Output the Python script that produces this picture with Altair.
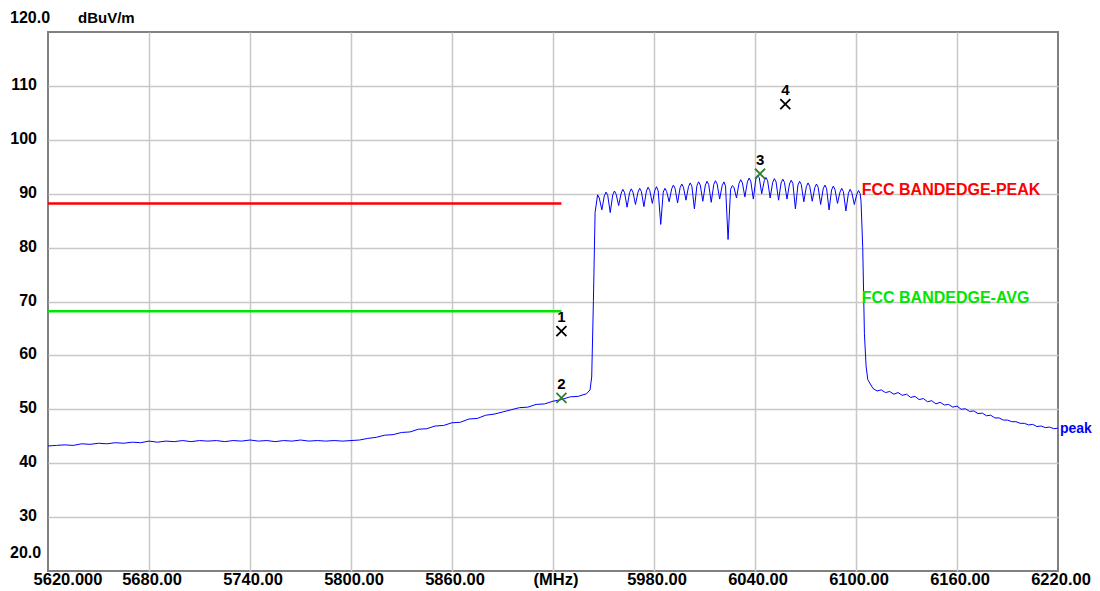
import altair as alt
import pandas as pd

# ---------------- data ----------------
freq_left = [5620, 5625, 5630, 5635, 5640, 5645, 5650, 5655, 5660, 5665, 5670, 5675,
             5680, 5685, 5690, 5695, 5700, 5705, 5710, 5715, 5720, 5725, 5730, 5735,
             5740, 5745, 5750, 5755, 5760, 5765, 5770, 5775, 5780, 5785, 5790, 5795,
             5800, 5805, 5810, 5815, 5820, 5825, 5830, 5835, 5840, 5845, 5850, 5855,
             5860, 5865, 5870, 5875, 5880, 5885, 5890, 5895, 5900, 5905, 5910, 5915,
             5920, 5925, 5930, 5935, 5940, 5942, 5943, 5944, 5945]
level_left = [43.2, 43.3, 43.4, 43.3, 43.6, 43.5, 43.7, 43.6, 43.8, 43.7, 43.9, 43.8,
              44.1, 43.9, 44.1, 44.0, 44.2, 44.0, 44.2, 44.1, 44.2, 44.0, 44.2, 44.1,
              44.3, 44.1, 44.2, 44.0, 44.2, 44.1, 44.3, 44.1, 44.2, 44.1, 44.2, 44.1,
              44.2, 44.3, 44.6, 44.8, 45.2, 45.3, 45.7, 45.8, 46.3, 46.4, 46.9, 47.0,
              47.5, 47.6, 48.2, 48.3, 48.9, 49.1, 49.5, 49.9, 50.3, 50.4, 50.9, 51.0,
              51.5, 51.8, 52.3, 52.4, 52.9, 53.6, 56.0, 70.0, 86.5]

freq_band = [5946.5, 5947.5, 5949, 5950.5, 5951.5, 5952.5, 5954, 5955.5, 5956.5, 5957.5,
             5959, 5960.5, 5961.5, 5962.5, 5964, 5965.5, 5966.5, 5967.5, 5969, 5970.5,
             5971.5, 5972.5, 5974, 5975.5, 5976.5, 5977.5, 5979, 5980.5, 5981.5, 5982.5,
             5984, 5985.5, 5986.5, 5987.5, 5989, 5990.5, 5991.5, 5992.5, 5994, 5995.5,
             5996.5, 5997.5, 5999, 6000.5, 6001.5, 6002.5, 6004, 6005.5, 6006.5, 6007.5,
             6009, 6010.5, 6011.5, 6012.5, 6014, 6015.5, 6016.5, 6017.5, 6019, 6020.5,
             6021.5, 6022.5, 6024, 6025.5, 6026.5, 6027.5, 6029, 6030.5, 6031.5, 6032.5,
             6034, 6035.5, 6036.5, 6037.5, 6039, 6040.5, 6041.5, 6042.5, 6044, 6045.5,
             6046.5, 6047.5, 6049, 6050.5, 6051.5, 6052.5, 6054, 6055.5, 6056.5, 6057.5,
             6059, 6060.5, 6061.5, 6062.5, 6064, 6065.5, 6066.5, 6067.5, 6069, 6070.5,
             6071.5, 6072.5, 6074, 6075.5, 6076.5, 6077.5, 6079, 6080.5, 6081.5, 6082.5,
             6084, 6085.5, 6086.5, 6087.5, 6089, 6090.5, 6091.5, 6092.5, 6094, 6095.5,
             6096.5, 6097.5, 6099, 6100.5, 6101.5, 6102.5, 6103]
level_band = [89.8, 89.2, 87.0, 89.6, 90.3, 89.7, 86.5, 89.8, 90.5, 89.9,
              87.8, 90.1, 90.8, 90.2, 87.5, 90.2, 90.9, 90.3, 88.0, 90.3,
              91.0, 90.4, 87.6, 90.5, 91.2, 90.6, 88.2, 90.6, 91.3, 90.5,
              84.3, 90.3, 91.0, 90.4, 88.5, 90.9, 91.6, 91.0, 88.3, 91.1,
              91.8, 91.2, 88.8, 91.3, 92.0, 91.4, 87.2, 91.5, 92.2, 91.6,
              88.6, 91.6, 92.3, 91.7, 88.4, 91.7, 92.4, 91.8, 89.0, 91.5,
              92.2, 91.4, 81.5, 90.8, 91.5, 91.2, 89.2, 91.9, 92.6, 92.0,
              89.4, 92.2, 92.9, 92.3, 89.0, 92.7, 93.4, 93.0, 90.0, 92.4,
              93.0, 92.4, 89.2, 92.1, 92.8, 92.2, 88.8, 92.0, 92.7, 92.1,
              89.0, 91.8, 92.5, 91.9, 87.2, 91.6, 92.3, 91.7, 88.5, 91.3,
              92.0, 91.4, 88.6, 91.1, 91.8, 91.2, 88.0, 90.9, 91.6, 91.0,
              87.0, 90.7, 91.4, 90.8, 88.2, 90.3, 91.0, 90.4, 86.8, 90.1,
              90.8, 90.2, 88.0, 89.9, 90.6, 90.0, 88.5]

freq_right = [6104, 6105, 6106, 6107, 6110, 6112.5, 6115, 6117.5, 6120, 6122.5, 6125,
              6127.5, 6130, 6132.5, 6135, 6137.5, 6140, 6142.5, 6145, 6147.5, 6150,
              6152.5, 6155, 6157.5, 6160, 6162.5, 6165, 6167.5, 6170, 6172.5, 6175,
              6177.5, 6180, 6182.5, 6185, 6187.5, 6190, 6192.5, 6195, 6197.5, 6200,
              6202.5, 6205, 6207.5, 6210, 6212.5, 6215, 6217.5, 6220]
level_right = [80.0, 64.0, 58.0, 55.5, 53.9, 53.4, 53.6, 53.1, 53.3, 52.8, 53.1,
               52.6, 52.8, 52.2, 52.4, 51.8, 52.0, 51.4, 51.6, 51.0, 51.3,
               50.8, 50.9, 50.4, 50.6, 50.0, 50.1, 49.6, 49.7, 49.2, 49.3,
               48.8, 48.9, 48.4, 48.4, 48.0, 48.0, 47.7, 47.7, 47.4, 47.4,
               47.1, 47.2, 46.8, 46.9, 46.6, 46.7, 46.4, 46.5]

limit_names = ["FCC BANDEDGE-PEAK", "FCC BANDEDGE-AVG"]
limit_levels = [88.2, 68.2]
limit_start = [5620, 5620]
limit_end = [5925, 5925]
limit_label_freq = [6104, 6104]
limit_colors = ["#ff0000", "#00e600"]

marker_ids = ["1", "2", "3", "4"]
marker_freq = [5925.0, 5925.0, 6043.0, 6058.0]
marker_level = [64.5, 52.1, 93.7, 106.6]
marker_colors = ["#000000", "#2f7f2f", "#2f7f2f", "#000000"]

x_ticks = [5620, 5680, 5740, 5800, 5860, 5920, 5980, 6040, 6100, 6160, 6220]
x_tick_labels = ["5620.000", "5680.00", "5740.00", "5800.00", "5860.00", "(MHz)",
                 "5980.00", "6040.00", "6100.00", "6160.00", "6220.00"]
y_ticks = [110, 100, 90, 80, 70, 60, 50, 40, 30]
y_tick_labels = ["110", "100", "90", "80", "70", "60", "50", "40", "30"]
y_top_label = "120.0"
y_bottom_label = "20.0"
y_unit = "dBuV/m"
trace_name = "peak"

# ---------------- tables ----------------
trace = pd.DataFrame({
    "freq": freq_left + freq_band + freq_right,
    "level": level_left + level_band + level_right,
})
limits = pd.DataFrame({"name": limit_names, "level": limit_levels, "x0": limit_start,
                       "x1": limit_end, "lx": limit_label_freq, "color": limit_colors})
markers = pd.DataFrame({"id": marker_ids, "freq": marker_freq,
                        "level": marker_level, "color": marker_colors})
xlab = pd.DataFrame({"freq": x_ticks, "label": x_tick_labels})
ylab = pd.DataFrame({"level": y_ticks, "label": y_tick_labels})

FONT = "Liberation Sans"
xs = alt.Scale(domain=[5620, 6220], nice=False, zero=False)
ys = alt.Scale(domain=[20, 120], nice=False, zero=False)

grid_axis_x = alt.Axis(values=x_ticks[1:-1], grid=True, gridColor="#c8c8c8", gridWidth=1.5,
                       labels=False, ticks=False, domain=False, title=None)
grid_axis_y = alt.Axis(values=y_ticks, grid=True, gridColor="#c8c8c8", gridWidth=1.5,
                       labels=False, ticks=False, domain=False, title=None)

line = alt.Chart(trace).mark_line(color="#0000ff", strokeWidth=1, clip=True).encode(
    x=alt.X("freq:Q", scale=xs, axis=grid_axis_x),
    y=alt.Y("level:Q", scale=ys, axis=grid_axis_y),
)

limit_rules = alt.Chart(limits).mark_rule(strokeWidth=2.5).encode(
    x=alt.X("x0:Q", scale=xs), x2="x1:Q",
    y=alt.Y("level:Q", scale=ys),
    color=alt.Color("color:N", scale=None),
)
limit_text = alt.Chart(limits).mark_text(
    align="left", baseline="middle", dx=-1, dy=-13, font=FONT, fontSize=16, fontWeight="bold"
).encode(
    x=alt.X("lx:Q", scale=xs),
    y=alt.Y("level:Q", scale=ys),
    text="name:N",
    color=alt.Color("color:N", scale=None),
)

x_path = "M-1,-1L1,1M1,-1L-1,1"
marker_pts = alt.Chart(markers).mark_point(shape=x_path, size=100, strokeWidth=1.8, filled=False, opacity=1).encode(
    x=alt.X("freq:Q", scale=xs), y=alt.Y("level:Q", scale=ys),
    color=alt.Color("color:N", scale=None),
)
marker_txt = alt.Chart(markers).mark_text(
    dy=-14, font=FONT, fontSize=15, fontWeight="bold", color="#000000"
).encode(x=alt.X("freq:Q", scale=xs), y=alt.Y("level:Q", scale=ys), text="id:N")

peak_df = pd.DataFrame({"freq": [freq_right[-1]], "level": [level_right[-1]], "label": [trace_name]})
peak_txt = alt.Chart(peak_df).mark_text(
    align="left", baseline="middle", dx=2, dy=1, font=FONT, fontSize=14, fontWeight="bold", color="#0000ff"
).encode(x=alt.X("freq:Q", scale=xs), y=alt.Y("level:Q", scale=ys), text="label:N")

xlab_main = alt.Chart(xlab.iloc[1:]).mark_text(
    baseline="middle", dx=3, font=FONT, fontSize=16.5, fontWeight="bold", color="#000000"
).encode(x=alt.X("freq:Q", scale=xs), y=alt.value(548), text="label:N")
xlab_first = alt.Chart(xlab.iloc[:1]).mark_text(
    baseline="middle", dx=20, font=FONT, fontSize=16.5, fontWeight="bold", color="#000000"
).encode(x=alt.X("freq:Q", scale=xs), y=alt.value(548), text="label:N")

ylab_main = alt.Chart(ylab).mark_text(
    align="right", baseline="middle", dy=-1, font=FONT, fontSize=16, fontWeight="bold", color="#000000"
).encode(x=alt.value(-11), y=alt.Y("level:Q", scale=ys), text="label:N")

edge_df = pd.DataFrame({"level": [120, 20], "label": [y_top_label, y_bottom_label]})
ytop = alt.Chart(edge_df.iloc[:1]).mark_text(
    align="left", baseline="middle", dy=-14, font=FONT, fontSize=16, fontWeight="bold", color="#000000"
).encode(x=alt.value(-38), y=alt.Y("level:Q", scale=ys), text="label:N")
ybot = alt.Chart(edge_df.iloc[1:]).mark_text(
    align="left", baseline="middle", dy=-18, font=FONT, fontSize=16, fontWeight="bold", color="#000000"
).encode(x=alt.value(-38), y=alt.Y("level:Q", scale=ys), text="label:N")

unit_df = pd.DataFrame({"label": [y_unit]})
unit_txt = alt.Chart(unit_df).mark_text(
    align="left", baseline="middle", font=FONT, fontSize=15, fontWeight="bold", color="#000000"
).encode(x=alt.value(30), y=alt.value(-14), text="label:N")

chart = alt.layer(
    line, limit_rules, limit_text, marker_pts, marker_txt, peak_txt,
    xlab_main, xlab_first, ylab_main, ytop, ybot, unit_txt,
).properties(
    width=1010, height=539,
    autosize=alt.AutoSizeParams(type="none"),
    padding={"left": 40, "top": 24, "right": 34, "bottom": 20},
    background="#ffffff",
).configure_view(stroke="#808080", strokeWidth=2)

chart.save("out.html", embed_options={"renderer": "svg", "actions": False})
